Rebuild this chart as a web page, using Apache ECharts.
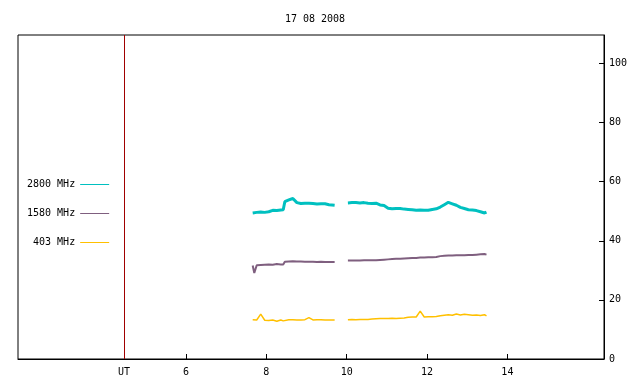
<!DOCTYPE html>
<html>
<head>
<meta charset="utf-8">
<script src="https://cdn.jsdelivr.net/npm/echarts@6/dist/echarts.min.js"></script>
<style>html,body{margin:0;padding:0;background:#fff}#c{width:640px;height:384px}</style>
</head>
<body>
<div id="c"></div>
<script>
// ---- data ----
const title = '17 08 2008';
const seriesNames = ['2800 MHz', '1580 MHz', '403 MHz'];
const xTickValues = [6, 8, 10, 12, 14];
const yTickValues = [0, 20, 40, 60, 80, 100];
const utMarker = 4.457;     // red vertical line, labelled "UT"
const xRange = [1.818, 16.405];
const yRange = [0, 109.6];

const times1 = [7.66, 7.70, 7.76, 7.86, 7.96, 8.06, 8.16, 8.26, 8.36, 8.42, 8.46, 8.56, 8.66, 8.76, 8.86, 8.96, 9.06, 9.16, 9.26, 9.36, 9.46, 9.56, 9.70];
const times2 = [10.03, 10.13, 10.23, 10.33, 10.43, 10.53, 10.63, 10.73, 10.83, 10.93, 11.03, 11.13, 11.23, 11.33, 11.43, 11.53, 11.63, 11.73, 11.83, 11.93, 12.03, 12.13, 12.23, 12.33, 12.43, 12.53, 12.63, 12.73, 12.83, 12.93, 13.03, 13.13, 13.23, 13.33, 13.43, 13.48];
const gapTime = 9.86;

const mhz2800a = [49.4, 49.5, 49.6, 49.7, 49.6, 49.8, 50.3, 50.2, 50.4, 50.5, 53.2, 53.8, 54.3, 52.9, 52.6, 52.7, 52.7, 52.6, 52.4, 52.5, 52.5, 52.2, 52.0];
const mhz2800b = [52.8, 52.9, 52.9, 52.8, 52.9, 52.7, 52.6, 52.7, 52.1, 51.9, 51.0, 50.8, 50.9, 50.9, 50.7, 50.6, 50.5, 50.3, 50.4, 50.3, 50.3, 50.6, 50.8, 51.4, 52.2, 53.0, 52.5, 52.0, 51.3, 50.9, 50.5, 50.4, 50.2, 49.8, 49.4, 49.7];
const mhz1580a = [31.6, 29.1, 31.7, 31.8, 31.9, 32.0, 31.9, 32.1, 32.0, 32.0, 32.9, 33.0, 33.1, 33.0, 33.0, 32.9, 32.9, 32.9, 32.8, 32.9, 32.8, 32.8, 32.8];
const mhz1580b = [33.3, 33.3, 33.3, 33.3, 33.4, 33.4, 33.4, 33.4, 33.5, 33.6, 33.7, 33.8, 33.9, 33.9, 34.0, 34.1, 34.2, 34.2, 34.3, 34.3, 34.4, 34.4, 34.5, 34.8, 34.9, 35.0, 35.0, 35.1, 35.1, 35.1, 35.2, 35.2, 35.3, 35.4, 35.5, 35.3];
const mhz403a = [13.3, 13.5, 13.2, 15.2, 13.1, 13.0, 13.2, 12.8, 13.2, 12.9, 12.9, 13.3, 13.3, 13.2, 13.2, 13.3, 14.0, 13.2, 13.3, 13.3, 13.2, 13.2, 13.2];
const mhz403b = [13.3, 13.4, 13.3, 13.4, 13.4, 13.4, 13.5, 13.6, 13.7, 13.7, 13.7, 13.8, 13.7, 13.8, 13.9, 14.1, 14.2, 14.2, 16.2, 14.2, 14.3, 14.3, 14.4, 14.6, 14.8, 15.0, 14.8, 15.2, 14.9, 15.1, 15.0, 14.8, 14.9, 14.7, 15.0, 14.6];

const colors = ['#00c0c0', '#7f5f7f', '#ffc000'];
const widths = [3, 2, 1.5];

function build(a, b) {
  return times1.map((t, i) => [t, a[i]])
    .concat([[gapTime, null]])
    .concat(times2.map((t, i) => [t, b[i]]));
}
const allData = [build(mhz2800a, mhz2800b), build(mhz1580a, mhz1580b), build(mhz403a, mhz403b)];

const font = 'DejaVu Sans Mono';
const chart = echarts.init(document.getElementById('c'), null, {renderer: 'canvas'});

const series = seriesNames.map((n, i) => ({
  name: n,
  type: 'line',
  data: allData[i],
  symbol: 'none',
  connectNulls: false,
  lineStyle: {color: colors[i], width: widths[i]},
  itemStyle: {color: colors[i]},
  z: 3 - i
}));
series[0].markLine = {
  silent: true,
  symbol: ['none', 'none'],
  label: {show: false},
  lineStyle: {color: '#a00000', width: 1, type: 'solid'},
  data: [{xAxis: utMarker}]
};

chart.setOption({
  animation: false,
  backgroundColor: '#fff',
  title: {
    text: title, left: 310, top: 9, textAlign: 'center',
    textStyle: {fontFamily: font, fontSize: 10, fontWeight: 'normal', color: '#000'}
  },
  legend: {
    orient: 'vertical', align: 'right', left: 27, top: 179.5, padding: 0,
    itemGap: 19, itemWidth: 29, itemHeight: 1, icon: 'rect',
    textStyle: {fontFamily: font, fontSize: 10, color: '#000'},
    data: seriesNames
  },
  grid: {left: 18, top: 35, width: 586, height: 324, show: true, borderColor: '#000', borderWidth: 1, containLabel: false},
  xAxis: {
    type: 'value', min: xRange[0], max: xRange[1],
    splitLine: {show: false},
    axisLine: {show: true, lineStyle: {color: '#000', width: 1}},
    axisTick: {show: true, inside: true, length: 5, customValues: xTickValues, lineStyle: {color: '#000'}},
    axisLabel: {
      customValues: [utMarker].concat(xTickValues), margin: 8,
      fontFamily: font, fontSize: 10, color: '#000',
      formatter: v => (Math.abs(v - utMarker) < 1e-6 ? 'UT' : String(v))
    }
  },
  yAxis: {
    type: 'value', position: 'right', min: yRange[0], max: yRange[1],
    splitLine: {show: false},
    axisLine: {show: true, lineStyle: {color: '#000', width: 1}},
    axisTick: {show: true, inside: true, length: 5, customValues: yTickValues, lineStyle: {color: '#000'}},
    axisLabel: {customValues: yTickValues, margin: 5, fontFamily: font, fontSize: 10, color: '#000'}
  },
  series: series
});
</script>
</body>
</html>
